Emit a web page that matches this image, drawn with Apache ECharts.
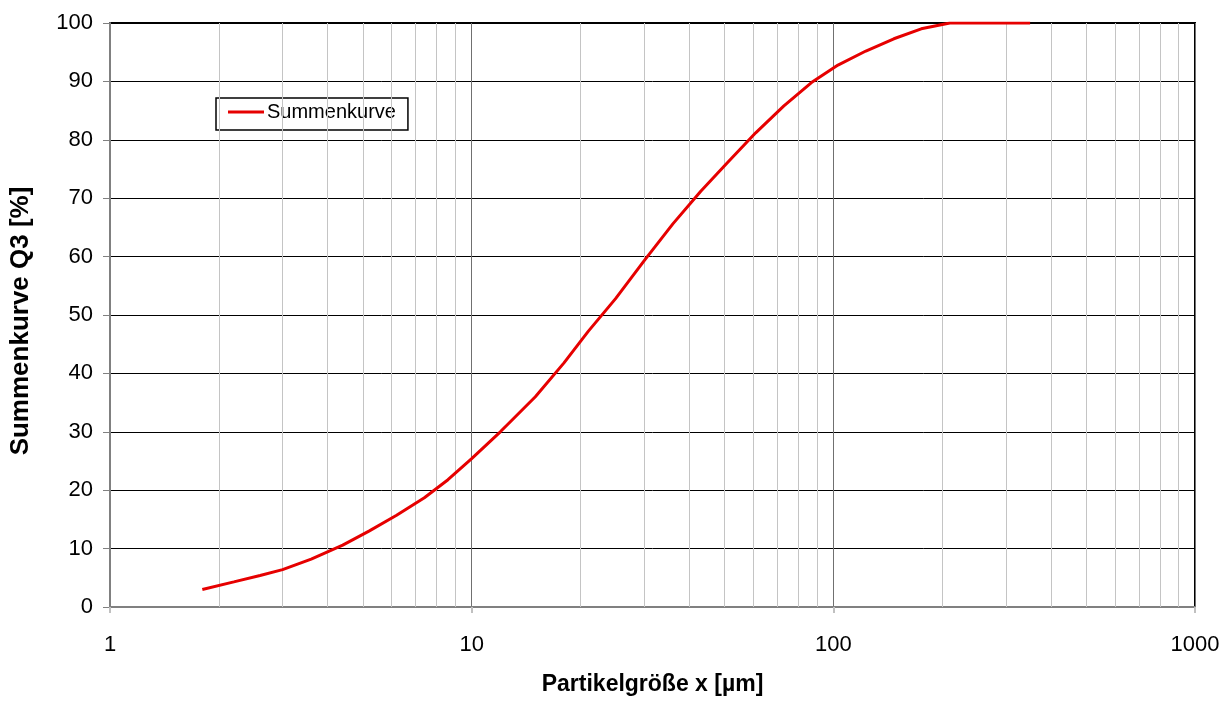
<!DOCTYPE html>
<html><head><meta charset="utf-8">
<script src="https://cdn.jsdelivr.net/npm/echarts@6/dist/echarts.min.js"></script>
<style>html,body{margin:0;padding:0;background:#fff;overflow:hidden}#c{width:1231px;height:701px}</style>
</head><body><div id="c"></div>
<script>
const sizes = [1.8, 2.2, 2.6, 3.0, 3.6, 4.4, 5.2, 6.2, 7.4, 8.6, 10, 12, 15, 18, 21, 25, 30, 36, 43, 51, 61, 73, 87, 103, 123, 147, 175, 210, 250, 300, 350];
const q3 = [3.0, 4.3, 5.4, 6.4, 8.2, 10.6, 13.0, 15.7, 18.7, 21.8, 25.4, 30.0, 36.0, 41.8, 47.2, 52.8, 59.3, 65.6, 71.2, 76.1, 81.2, 85.8, 89.8, 92.8, 95.2, 97.3, 99.0, 100, 100, 100, 100];
const minorTicks = [2, 3, 4, 5, 6, 7, 8, 9, 20, 30, 40, 50, 60, 70, 80, 90, 200, 300, 400, 500, 600, 700, 800, 900];
const seriesName = 'Summenkurve Q3';
const legendLabel = 'Summenkurve';
const xTitle = 'Partikelgröße x [µm]';
const yTitle = 'Summenkurve Q3 [%]';

const FONT = "'Liberation Sans', Arial, sans-serif";
const chart = echarts.init(document.getElementById('c'), null, {renderer: 'canvas'});
chart.setOption({
  animation: false,
  backgroundColor: '#fff',
  textStyle: {fontFamily: FONT},
  grid: {left: 110, width: 1085, top: 23, height: 591, show: true, borderColor: '#000', borderWidth: 2, backgroundColor: 'transparent'},
  legend: {
    left: 216, top: 98,
    orient: 'vertical',
    padding: [4, 12, 8, 12],
    icon: 'rect',
    itemWidth: 36, itemHeight: 3, itemGap: 0,
    backgroundColor: '#fff', borderColor: '#000', borderWidth: 1.5,
    formatter: () => legendLabel,
    textStyle: {fontSize: 20, color: '#000', fontFamily: FONT, padding: [0, 0, 0, -2]},
    data: [seriesName]
  },
  xAxis: {
    type: 'log', logBase: 10, min: 1, max: 1000,
    name: xTitle, nameLocation: 'middle', nameGap: 66,
    nameTextStyle: {fontSize: 23, fontWeight: 'bold', color: '#000', fontFamily: FONT},
    axisLine: {show: true, lineStyle: {color: '#808080', width: 2}},
    axisTick: {show: true, length: 6, lineStyle: {color: '#c0c0c0', width: 2}},
    axisLabel: {fontSize: 22, color: '#000', margin: 27, fontFamily: FONT, formatter: v => String(v)},
    splitLine: {show: true, lineStyle: {color: '#707070', width: 1}}
  },
  yAxis: {
    type: 'value', min: 0, max: 100, interval: 10,
    name: yTitle, nameLocation: 'middle', nameGap: 76,
    nameTextStyle: {fontSize: 26, fontWeight: 'bold', color: '#000', fontFamily: FONT, padding: [0, 12, 0, 0]},
    axisLine: {show: true, lineStyle: {color: '#808080', width: 2}},
    axisTick: {show: true, length: 7, lineStyle: {color: '#808080', width: 1}},
    axisLabel: {fontSize: 22, color: '#000', margin: 17, fontFamily: FONT},
    splitLine: {show: true, lineStyle: {color: '#000', width: 1}}
  },
  series: [
    {
      type: 'line', name: 'minor', data: [], silent: true, z: 1,
      markLine: {
        silent: true, symbol: ['none', 'none'], animation: false,
        label: {show: false},
        lineStyle: {color: '#c4c4c4', width: 1, type: 'solid'},
        emphasis: {disabled: true},
        data: minorTicks.map(v => ({xAxis: v}))
      }
    },
    {
      type: 'line', name: seriesName, z: 5,
      data: sizes.map((s, i) => [s, q3[i]]),
      symbol: 'none', smooth: false,
      lineStyle: {color: '#e60000', width: 3},
      itemStyle: {color: '#e60000'}
    }
  ]
});
</script></body></html>
